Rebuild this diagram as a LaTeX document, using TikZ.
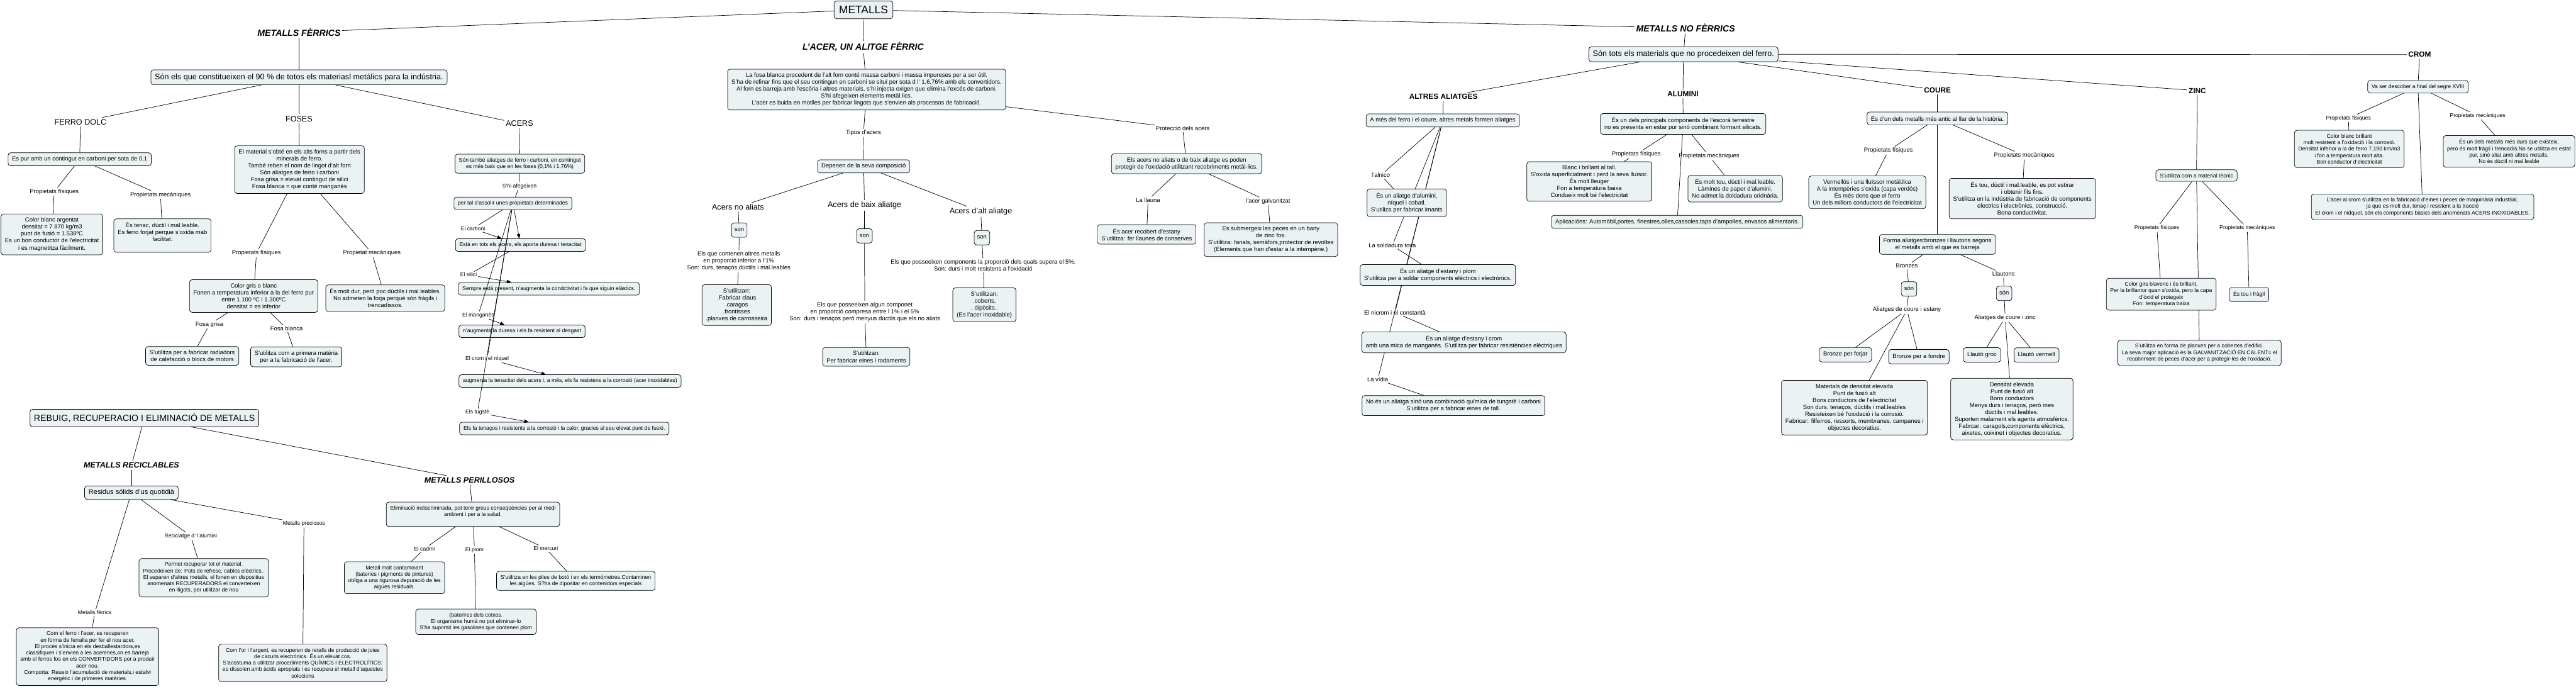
\documentclass[tikz,border=0pt]{standalone}
\usepackage{fontspec}
\setmainfont{Liberation Sans}
\usetikzlibrary{arrows.meta}
\definecolor{boxfill}{RGB}{235,242,244}
\newcommand\ftA{\fontsize{12bp}{14bp}\selectfont}
\newcommand\ftB{\fontsize{11bp}{13bp}\selectfont}
\pgfdeclarelayer{back}
\pgfdeclarelayer{bg}
\pgfsetlayers{back,bg,main}
\begin{document}
\begin{tikzpicture}[x=3.3144bp,y=-3.3144bp,
  cbox/.style={draw=black, line width=0.9bp, fill=boxfill, rounded corners=5bp, align=center, inner xsep=8bp, inner ysep=7.5bp, font=\ftA},
  sbox/.style={cbox, font=\ftB},
  lab/.style={align=center, inner sep=2.5bp, font=\ftA},
  slab/.style={lab, font=\ftB},
  ttl/.style={font=\bfseries\itshape\fontsize{18bp}{20bp}\selectfont, inner sep=3bp},
  sttl/.style={font=\bfseries\itshape\fontsize{16bp}{18bp}\selectfont, inner sep=3bp},
  head/.style={font=\fontsize{16bp}{18bp}\selectfont, inner sep=3bp},
  metal/.style={font=\bfseries\fontsize{15bp}{17bp}\selectfont, inner sep=3bp},
  conn/.style={draw=black, line width=0.9bp},
  arr/.style={conn, -{Triangle[length=9bp,width=7bp]}}]
\useasboundingbox (0,0) rectangle (1568,419);
\begin{pgfonlayer}{back}
\fill[white] (0,0) rectangle (1568,419);
\end{pgfonlayer}

% ---------- top ----------
\node[cbox,font=\fontsize{22bp}{24bp}\selectfont,inner xsep=10bp,inner ysep=10bp] (metalls) at (525.6,6) {METALLS};
\node[ttl] (mf) at (182,19.6) {METALLS FÈRRICS};
\node[ttl] (mnf) at (1026,17) {METALLS NO FÈRRICS};
\node[ttl] (lacer) at (525.4,28.6) {L'ACER, UN ALITGE FÈRRIC};

% ---------- metalls ferrics ----------
\node[cbox,font=\fontsize{16bp}{18bp}\selectfont] (sonels) at (182,47) {Són els que constitueixen el 90 \% de totos els materiasl metálics para la indústria.};
\node[head] (ferro) at (49,74.2) {FERRO DOLC};
\node[head] (foses) at (182,72.4) {FOSES};
\node[head] (acers) at (316.2,75.2) {ACERS};

\node[cbox] (espur) at (48.5,96.9) {Es pur amb un contingut en carboni per sota de 0,1};
\node[lab] (pf1) at (33,116.6) {Propietats físiques};
\node[lab] (pm1) at (97.7,118.5) {Propietats mecàniques};
\node[cbox] (cb) at (31.6,142.6) {Color blanc argentat\\densitat = 7.870 kg/m3\\punt de fusió = 1.538ºC\\Es un bon conductor de l'electricitat\\i es magnetitza fàcilment.};
\node[cbox] (et) at (98.9,143.3) {És tenac, dúctil i mal.leable.\\Es ferro forjat perque s'oxida mab\\facilitat.\\\mbox{}};

\node[cbox] (fosbox) at (182.3,103.2) {El material s'obté en els alts forns a partir dels\\minerals de ferro.\\També reben el nom de lingot d'alt forn\\Són aliatges de ferro i carboni\\Fosa grisa = elevat contingut de silici\\Fosa blanca = que conté manganès};
\node[lab] (pf2) at (156.1,154) {Propietats físiques};
\node[lab] (pm2) at (226.4,154) {Propietat mecàniques};
\node[cbox] (cg) at (154.4,180.1) {Color gris o blanc\\Fonen a temperatura inferior a la del ferro pur\\entre 1.100 ºC i 1.300ºC\\densitat = es inferior};
\node[cbox] (emd) at (234.5,181.4) {És molt dur, però poc dúctils i mal.leables.\\No admeten la forja perquè són fràgils i\\trencadissos.};
\node[lab] (fg) at (127.5,197.4) {Fosa grisa};
\node[lab] (fb) at (174.4,199.9) {Fosa blanca};
\node[cbox] (rad) at (117,216.5) {S'utilitza per a fabricar radiadors\\de calefacció o blocs de motors};
\node[cbox] (prim) at (180.3,217.1) {S'utilitza com a primera matèria\\per a la fabricació de l'acer.};

% ---------- acers ----------
\node[sbox,anchor=west] (stab) at (276.8,99.6) {Són també aliatges de ferro i carboni, en contingut\\es més baix que en les foses (0,1\% i 1,76\%)};
\node[slab] (shi) at (316.2,113.3) {S'hi afegeixen};
\node[sbox,anchor=west] (ptal) at (276.2,123.7) {per tal d'assolir unes propietats determinades};
\node[slab] (lcarb) at (287.9,139.1) {El carboni};
\node[sbox,anchor=west] (esta) at (277.1,149.1) {Està en tots els acers, els aporta duresa i tenacitat};
\node[slab] (lsil) at (285.2,167.2) {El silici};
\node[sbox,anchor=west] (semp) at (278.9,175.7) {Sempre està present, n'augmenta la condctivitat i fa que siguin elàstics.};
\node[slab] (lman) at (291.1,191.7) {El manganès};
\node[sbox,anchor=west] (naug) at (279.2,201.6) {n'augmenta la duresa i els fa resistent al desgast};
\node[slab] (lcrom) at (296.5,218.2) {El crom i el níquel};
\node[sbox,anchor=west] (aug) at (279.2,231.8) {augmenta la tenacitat dels acers i, a més, els fa resistens a la corrosió (acer inoxidables)};
\node[slab] (ltug) at (290.6,251) {Els tugstè};
\node[sbox,anchor=west] (elsfa) at (279.6,260.7) {Els fa tenaços i resistents a la corrosió i la calor, gracies al seu elevat punt de fusió.};

% ---------- rebuig ----------
\node[cbox,font=\fontsize{18bp}{20bp}\selectfont,inner ysep=8.5bp] (reb) at (87.9,254.3) {REBUIG, RECUPERACIO I ELIMINACIÓ DE METALLS};
\node[sttl] (mrec) at (80,283.1) {METALLS RECICLABLES};
\node[cbox,font=\fontsize{14bp}{16bp}\selectfont,inner ysep=7bp] (res) at (80,299.7) {Residus sólids d'us quotidià};
\node[slab] (lmf) at (57.7,372.7) {Metalls fèrrics};
\node[slab] (lrec) at (116.1,326.1) {Reciclatge d' l'alumini};
\node[slab] (lprec) at (185,318.6) {Metalls preciosos};
\node[sbox] (cfe) at (53.3,399.5) {Com el  ferro i l'acer, es recuperen\\en forma de ferralla per fer el nou acer.\\El procés s'inicia en els desballestardors,es\\classifiquen i s'envien a les acereries,on es barreja\\amb el ferros fos en els CONVERTIDORS per a produir\\acer nou.\\Comporta: Reueix l'acumulació de materials,i estalvi\\energètic i de primeres matèries.};
\node[sbox] (perm) at (124,351.5) {Permet recuperar tot el material.\\Procedeixen de: Pots de refresc, cables elèctrics..\\El separen d'altres metalls, el fonen en dispositius\\anomenats RECUPERADORS  el converteixen\\en lligots, per utilitzar de nou};
\node[sbox] (cor) at (184.3,403.3) {Com l'or i l'argent, es recuperen de retalls de producció de joies\\de circuits electrònics. És un elevat cos.\\S'acostuma a utilitzar procediments QUÍMICS I ELECTROLÍTICS:\\es dissolen amb àcids apropiats i es recupera el metall d'aquestes\\solucions};
\node[sttl] (mper) at (285.8,292) {METALLS PERILLOSOS};
\node[sbox] (elim) at (287.9,312.9) {Eliminació indiscriminada, pot tenir greus conseqüències per al medi\\ambient i per a la salud.\\\mbox{}};
\node[slab] (lcad) at (258.3,333.9) {El cadmi};
\node[slab] (lplom) at (288.8,334.7) {El plom};
\node[slab] (lmerc) at (332.2,333.7) {El mercuri};
\node[sbox] (cad) at (240.1,351.5) {Metall molt contaminant\\(bateries i pigments de pintures)\\obliga a una rigurosa depuració de les\\aigües residuals.};
\node[sbox] (plom) at (289.7,378.3) {(baterires dels cotxes.\\El organisme humà no pot eliminar-lo\\S'ha suprimit les gasolines que contenen plom};
\node[sbox,anchor=west] (merc) at (302.1,353.4) {S'utilitza en les plies de botó i en els termòmetres.Contaminen\\les aigües. S?ha de dipositar en contenidors especials};

% ---------- l'acer ----------
\node[cbox] (lacbox) at (527.5,54.5) {La fosa blanca procedent de l'alt forn conté massa carboni i massa impureses per a ser útil.\\S'ha de refinar fins que el seu contingun en carboni se situï per sota d l' 1,6,76\% amb els convertidors.\\Al forn es barreja amb l'escòria i altres materials, s'hi injecta oxigen que elimina l'excés de carboni.\\S'hi afegeixen elements metàl.lics.\\L'acer es buida en motlles per fabricar lingots que s'envien als processos de fabricació.};
\node[lab] (tip) at (525.6,80.8) {Tipus d'acers};
\node[cbox] (dep) at (525.7,101.2) {Depenen de la seva composició};
\node[head] (ana) at (449.2,126) {Acers no aliats};
\node[head] (aba) at (526.2,124.9) {Acers de baix aliatge};
\node[head] (aal) at (597,128.8) {Acers d'alt aliatge};
\node[cbox,inner xsep=6bp] (son1) at (450,140) {son\strut};
\node[cbox,inner xsep=6bp] (son2) at (526.2,143.5) {son\strut};
\node[cbox,inner xsep=6bp] (son3) at (597.7,144.6) {son\strut};
\node[lab] (t1) at (449.7,158.9) {Els que contenen altres metalls\\en proporció inferior a l'1\%\\Son: durs, tenaçós,dúctils i mal.leables};
\node[cbox] (u1) at (448.4,185.6) {S'utilitzan:\\.Fabricar claus\\.caragos\\.frontisses\\.planxes de carrosseira};
\node[lab] (t2) at (526.4,189.9) {Els que posseeixen algun componet\\en proporció compresa entre l 1\% i el 5\%\\Son: durs i tenaços però menyus dúctils que els no aliats};
\node[cbox] (u2) at (527.3,217.1) {S'utilitzan:\\Per fabricar eines i rodaments};
\node[lab] (t3) at (598.5,161.5) {Els que posseeixen components la proporció dels quals supera el 5\%.\\Son: durs i molt resistens a l'oxidació};
\node[cbox] (u3) at (599.2,185.4) {S'utilitzan:\\.coberts,\\. dipòsits..\\(Es l'acer inoxidable)};

\node[lab] (prot) at (719.9,78.2) {Protecció dels acers};
\node[cbox] (pbox) at (722.3,99.6) {Els acers no aliats o de baix aliatge es poden\\protegir de l'oxidació utilitzant recobriments metàl-lics.};
\node[lab] (llau) at (698.8,121.6) {La llauna};
\node[lab] (galv) at (771.9,122.4) {l'acer galvanitzat};
\node[cbox] (llbox) at (698,142.6) {És acer recobert d'estany\\S'utilitza: fer llaunes de conserves};
\node[cbox] (gbox) at (773.6,145.8) {Es submergeix les peces en un bany\\de zinc fos.\\S'utilitza: fanals, semàfors,protector de revoltes\\(Elements que han d'estar a la intempèrie.)};

% ---------- altres aliatges ----------
\node[metal] (altres) at (878.6,58.9) {ALTRES ALIATGES};
\node[cbox] (ames) at (878.2,73.3) {A més del ferro i el coure, altres metals formen aliatges};
\node[lab] (lalnico) at (840.5,106.6) {l'alnico};
\node[cbox] (alnbox) at (856.3,123.4) {És un aliatge d'alumini,\\níquel i cobatl.\\S'utiliza  per fabricar imants};
\node[lab] (lsold) at (847.5,149.3) {La soldadura tova};
\node[cbox] (soldbox) at (875.2,167.3) {És un aliatge d'estany i plom\\S'utilitza per a soldar components elèctrics i electrònics.};
\node[lab] (lnicr) at (849.1,190.1) {El nicrom i el constantà};
\node[cbox] (nicbox) at (891.1,208.3) {És un aliatge d'estany i crom\\amb una mica de manganès. S'utilitza per fabricar resistències elèctriques};
\node[lab] (lvid) at (838.6,230.9) {La vídia};
\node[cbox] (vidbox) at (884.7,246.8) {No és un aliatga sinó una combinació química de tungstè i carboni\\S'utilitza per a fabricar eines de tall.};

% ---------- no ferrics ----------
\node[cbox,font=\fontsize{16bp}{18bp}\selectfont] (sontots) at (1024.7,33) {Són tots els materials que no procedeixen del ferro.};
\node[metal] (alum) at (1024.4,57.3) {ALUMINI};
\node[cbox] (alubox) at (1024.5,75.4) {És un dels principals components de l'escorá terrestre\\no es presenta en estar pur sinó combinant formant silicats.};
\node[lab] (apf) at (996,93.9) {Propietats físiques};
\node[lab] (apm) at (1040.3,94.9) {Propietats mecàniques};
\node[cbox] (abl) at (967.4,110.4) {Blanc i brillant al tall.\\S'oxida superficialment i perd la seva lluïsor.\\És molt lleuger\\Fon a temperatura baixa\\Condueix molt bé l'electricitat};
\node[cbox] (amt) at (1056.2,114.8) {És molt tou, dúctil i mal.leable.\\Làmines de paper d'alumini.\\No admet la doldadura oridnària.};
\node[cbox] (aplic) at (1020.9,135) {Aplicacións: Automòbil,portes, finestres,olles,cassoles,taps d'ampolles, envasos alimentaris.};

\node[metal] (coure) at (1179.3,54.8) {COURE};
\node[cbox] (coubox) at (1179.3,72) {És d'un dels metalls més antic al llar de la història.};
\node[lab] (cpf) at (1149.5,91.6) {Propietats físiques};
\node[lab] (cpm) at (1232.2,94.6) {Propietats mecàniques};
\node[cbox] (cverm) at (1136.6,117) {Vermellós i una lluïssor metàl.lica\\A la intempèries s'oxida (capa verdós)\\És més dens que el ferro\\Un dels millors conductors de l'electricitat};
\node[cbox] (ctou) at (1231,120.8) {És tou, dúctil i mal.leable, es pot estirar\\i obtenir fils fins.\\S'utilitza en la indústria de fabricació de components\\electrics i electrònics, construcció.\\Bona conductivitat.};
\node[cbox] (forma) at (1179.3,148.7) {Forma aliatges:bronzes i llautons segons\\el metalls amb el que es barreja};
\node[lab] (lbron) at (1160.7,161.8) {Bronzes};
\node[cbox,inner xsep=6bp] (sonb) at (1162,175.8) {són\strut};
\node[lab] (lace) at (1160.7,188.5) {Aliatges de coure i estany};
\node[lab] (llaut) at (1219.5,166.6) {Llautons};
\node[cbox,inner xsep=6bp] (sonl) at (1219.9,178.5) {són\strut};
\node[lab] (lacz) at (1220.5,193.3) {Aliatges de coure i zinc};
\node[cbox] (bforj) at (1123.3,215.8) {Bronze per forjar\strut};
\node[cbox] (bfon) at (1168,217) {Bronze per a fondre\strut};
\node[cbox] (mat) at (1128.8,248) {Materials de densitat elevada\\Punt de fusió alt\\Bons conductors de l'electricitat\\Son durs, tenaços, dúctils i mal.leables\\Resisteixen bé l'oxidació i la corrosió.\\Fabricar: filferros, ressorts, membranes, campanes i\\objectes decoratius.};
\node[cbox] (lgroc) at (1206.4,215.9) {Llautó groc\strut};
\node[cbox] (lverm) at (1239.6,216) {Llautó vermell\strut};
\node[cbox] (dens) at (1224.6,248.9) {Densitat elevada\\Punt de fusió alt\\Bons conductors\\Menys durs i tenaços, però mes\\dúctils i mal.leables.\\Suporten malament els agents atmosfèrics.\\Fabrcar: caragols,components elèctrics,\\aixetes, coixinet i objectes decoratius.};

\node[metal] (zinc) at (1337.5,55.1) {ZINC};
\node[sbox] (tecn) at (1337,106.8) {S'utilitza com a material tècnic};
\node[slab] (zpf) at (1312.9,138.6) {Propietats físiques};
\node[slab] (zpm) at (1367.9,138.8) {Propietats mecàniques};
\node[sbox] (zcol) at (1315.5,179) {Color girs blavenc i és brillant.\\Per la brillantor quan s'oxida, pero la capa\\d'òxid el protegeix\\Fon: temperatura baixa};
\node[sbox] (ztou) at (1369,179.2) {És tou i fràgil\strut};
\node[sbox] (zplan) at (1338.8,214.7) {S'utilitza en forma de planxes per a cobertes d'edifici.\\La seva major aplicació és la GALVANITZACIÓ EN CALENT= el\\recobriment de peces d'acer per a protegir-les de l'oxidació.};

\node[metal] (crom) at (1472.8,33.2) {CROM};
\node[sbox] (vaser) at (1471.8,52.8) {Va ser descober a final del segre XVIII};
\node[slab] (crpf) at (1429.5,71.9) {Propietats físiques};
\node[slab] (crpm) at (1508.1,70.4) {Propietats mecàniques};
\node[sbox] (crcol) at (1430,90.6) {Color blanc brillant\\molt resistent a l'oxidació i la corrosió.\\Densitat inferior a la de ferro 7.190 km/m3\\i fon a temperatura molt alta.\\Bon conductor d'electricitat};
\node[sbox,anchor=east] (crdur) at (1567.4,92.1) {És un dels metalls més durs que existeix,\\pero és molt fràgil i trencadís.No se utilitza en estat\\pur, sinó aliat amb altres metalls.\\No és dúctil ni mal.leable};
\node[sbox] (cracer) at (1474.6,125.8) {L'acer al crom s'utilitza en la fabricació d'eines i peces de maquinària industrial,\\ja que es molt dur, tenaç i resistent a la tracció\\El crom i el nídquel, són els components bàsics dels anomenats ACERS INOXIDABLES.};

% ---------- connectors ----------
\begin{pgfonlayer}{bg}
\foreach \a/\b in {metalls/mf, metalls/lacer, metalls/mnf,
  mf/sonels, sonels/ferro, sonels/foses, sonels/acers,
  ferro/espur, espur/pf1, espur/pm1, pf1/cb, pm1/et,
  foses/fosbox, fosbox/pf2, fosbox/pm2, pf2/cg, pm2/emd, cg/fg, cg/fb, fg/rad, fb/prim,
  acers/stab, stab/shi, shi/ptal, ptal/lcarb, esta/lsil,
  reb/mrec, reb/mper, mrec/res, res/lmf, res/lrec, res/lprec, lmf/cfe, lrec/perm, lprec/cor,
  mper/elim, elim/lcad, elim/lplom, elim/lmerc, lcad/cad, lplom/plom, lmerc/merc,
  lacer/lacbox, lacbox/tip, tip/dep, dep/ana, dep/aba, dep/aal, ana/son1, aba/son2, aal/son3,
  son1/t1, t1/u1, son2/t2, t2/u2, son3/t3, t3/u3,
  lacbox/prot, prot/pbox, pbox/llau, pbox/galv, llau/llbox, galv/gbox,
  mnf/sontots, sontots/altres, altres/ames, ames/lalnico, lalnico/alnbox, ames/lsold, lsold/soldbox,
  ames/lnicr, lnicr/nicbox, ames/lvid, lvid/vidbox,
  sontots/alum, alum/alubox, alubox/apf, alubox/apm, apf/abl, apm/amt, alubox/aplic,
  sontots/coure, coure/coubox, coubox/cpf, coubox/cpm, cpf/cverm, cpm/ctou, coubox/forma,
  forma/lbron, lbron/sonb, sonb/lace, forma/llaut, llaut/sonl, sonl/lacz,
  lace/bforj, lace/bfon, lace/mat, lacz/lgroc, lacz/lverm, lacz/dens,
  sontots/zinc, zinc/tecn, tecn/zpf, tecn/zpm, zpf/zcol, zpm/ztou, tecn/zplan,
  sontots/crom, crom/vaser, vaser/crpf, vaser/crpm, crpf/crcol, crpm/crdur, vaser/cracer}
  \draw[conn] (\a) -- (\b);
\end{pgfonlayer}
\draw[arr] (lcarb) -- (esta);
\draw[arr] (ptal) -- (esta);
\draw[arr] (lsil) -- (semp);
\draw[arr] (lman) -- (naug);
\draw[arr] (lcrom) -- (aug);
\draw[arr] (ltug) -- (elsfa);
\draw[conn] (ptal) -- (lman);
\draw[conn] (ptal) -- (lcrom);
\draw[conn] (ptal) -- (ltug);
\end{tikzpicture}
\end{document}
